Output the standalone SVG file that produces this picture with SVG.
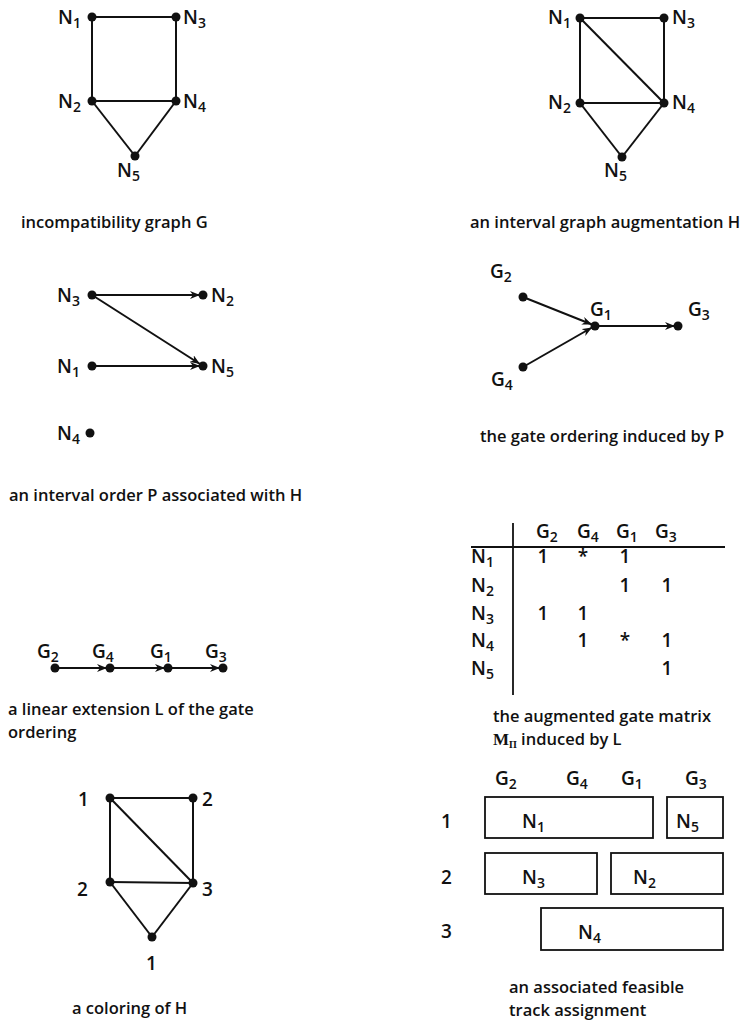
<svg xmlns="http://www.w3.org/2000/svg" width="753" height="1025" viewBox="0 0 753 1025">
<style>
text{font-family:"Open Sans","Liberation Sans",sans-serif;fill:#111;font-weight:600}
.lb{font-size:19px}
.sb{font-size:14px}
.cap{font-size:16.5px}
.e{stroke:#111;stroke-width:2;fill:none}
.d{fill:#111}
.box{fill:none;stroke:#111;stroke-width:1.8}
</style>
<defs>
<marker id="ah" viewBox="0 0 10 8" refX="10" refY="4" markerWidth="10" markerHeight="8" markerUnits="userSpaceOnUse" orient="auto">
<path d="M0,0 L10,4 L0,8 L3,4 z" fill="#111"/>
</marker>
</defs>
<rect width="753" height="1025" fill="#fff"/>

<!-- Graph G -->
<g id="graphG-edges">
<line class="e" x1="92" y1="17" x2="176" y2="17"/>
<line class="e" x1="92" y1="17" x2="92" y2="101"/>
<line class="e" x1="176" y1="17" x2="176" y2="101"/>
<line class="e" x1="92" y1="101" x2="176" y2="101"/>
<line class="e" x1="92" y1="101" x2="135" y2="156"/>
<line class="e" x1="176" y1="101" x2="135" y2="156"/>
</g>
<g id="G-N1"><circle class="d" cx="92" cy="17" r="4.5"/><text class="lb" x="58" y="24">N<tspan class="sb" dy="4">1</tspan></text></g>
<g id="G-N3"><circle class="d" cx="176" cy="17" r="4.5"/><text class="lb" x="183" y="24">N<tspan class="sb" dy="4">3</tspan></text></g>
<g id="G-N2"><circle class="d" cx="92" cy="101" r="4.5"/><text class="lb" x="58" y="108">N<tspan class="sb" dy="4">2</tspan></text></g>
<g id="G-N4"><circle class="d" cx="176" cy="101" r="4.5"/><text class="lb" x="183" y="108">N<tspan class="sb" dy="4">4</tspan></text></g>
<g id="G-N5"><circle class="d" cx="135" cy="156" r="4.5"/><text class="lb" x="117" y="177">N<tspan class="sb" dy="4">5</tspan></text></g>
<text class="cap" x="21" y="228">incompatibility graph G</text>

<!-- Graph H -->
<g id="graphH-edges">
<line class="e" x1="580" y1="18" x2="664" y2="18"/>
<line class="e" x1="580" y1="18" x2="580" y2="103"/>
<line class="e" x1="664" y1="18" x2="664" y2="103"/>
<line class="e" x1="580" y1="103" x2="664" y2="103"/>
<line class="e" x1="580" y1="18" x2="664" y2="103"/>
<line class="e" x1="580" y1="103" x2="622" y2="157"/>
<line class="e" x1="664" y1="103" x2="622" y2="157"/>
</g>
<g id="H-N1"><circle class="d" cx="580" cy="18" r="4.5"/><text class="lb" x="548" y="24">N<tspan class="sb" dy="4">1</tspan></text></g>
<g id="H-N3"><circle class="d" cx="664" cy="18" r="4.5"/><text class="lb" x="672" y="24">N<tspan class="sb" dy="4">3</tspan></text></g>
<g id="H-N2"><circle class="d" cx="580" cy="103" r="4.5"/><text class="lb" x="548" y="109">N<tspan class="sb" dy="4">2</tspan></text></g>
<g id="H-N4"><circle class="d" cx="664" cy="103" r="4.5"/><text class="lb" x="672" y="109">N<tspan class="sb" dy="4">4</tspan></text></g>
<g id="H-N5"><circle class="d" cx="622" cy="157" r="4.5"/><text class="lb" x="604" y="177">N<tspan class="sb" dy="4">5</tspan></text></g>
<text class="cap" x="470" y="228">an interval graph augmentation H</text>

<!-- Interval order P -->
<g id="P-edges">
<line class="e" x1="92" y1="295" x2="200" y2="295" marker-end="url(#ah)"/>
<line class="e" x1="92" y1="295" x2="200" y2="364" marker-end="url(#ah)"/>
<line class="e" x1="92" y1="366" x2="200" y2="366" marker-end="url(#ah)"/>
</g>
<g id="P-N3"><circle class="d" cx="92" cy="295" r="4.5"/><text class="lb" x="57" y="302">N<tspan class="sb" dy="4">3</tspan></text></g>
<g id="P-N2"><circle class="d" cx="203" cy="295" r="4.5"/><text class="lb" x="211" y="302">N<tspan class="sb" dy="4">2</tspan></text></g>
<g id="P-N1"><circle class="d" cx="92" cy="366" r="4.5"/><text class="lb" x="57" y="373">N<tspan class="sb" dy="4">1</tspan></text></g>
<g id="P-N5"><circle class="d" cx="203" cy="366" r="4.5"/><text class="lb" x="211" y="373">N<tspan class="sb" dy="4">5</tspan></text></g>
<g id="P-N4"><circle class="d" cx="90" cy="433" r="4.5"/><text class="lb" x="57" y="440">N<tspan class="sb" dy="4">4</tspan></text></g>
<text class="cap" x="9" y="501">an interval order  P associated with H</text>

<!-- Gate ordering -->
<g id="gate-edges">
<line class="e" x1="523" y1="297" x2="592" y2="324.5" marker-end="url(#ah)"/>
<line class="e" x1="523" y1="367" x2="592" y2="327.5" marker-end="url(#ah)"/>
<line class="e" x1="595" y1="326" x2="675" y2="326" marker-end="url(#ah)"/>
</g>
<g id="gate-G2"><circle class="d" cx="523" cy="297" r="4.5"/><text class="lb" x="490" y="278">G<tspan class="sb" dy="4">2</tspan></text></g>
<g id="gate-G1"><circle class="d" cx="595" cy="326" r="4.5"/><text class="lb" x="590" y="316">G<tspan class="sb" dy="4">1</tspan></text></g>
<g id="gate-G3"><circle class="d" cx="678" cy="326" r="4.5"/><text class="lb" x="688" y="316">G<tspan class="sb" dy="4">3</tspan></text></g>
<g id="gate-G4"><circle class="d" cx="523" cy="367" r="4.5"/><text class="lb" x="491" y="386">G<tspan class="sb" dy="4">4</tspan></text></g>
<text class="cap" x="480" y="442">the gate ordering induced by P</text>

<!-- Matrix -->
<g id="matrix">
<line x1="513" y1="523" x2="513" y2="695" stroke="#111" stroke-width="1.8"/>
<line x1="471" y1="547" x2="725" y2="547" stroke="#111" stroke-width="1.8"/>
<text class="lb" x="536" y="538">G<tspan class="sb" dy="4">2</tspan></text>
<text class="lb" x="577" y="538">G<tspan class="sb" dy="4">4</tspan></text>
<text class="lb" x="616" y="538">G<tspan class="sb" dy="4">1</tspan></text>
<text class="lb" x="655" y="538">G<tspan class="sb" dy="4">3</tspan></text>
<text class="lb" x="471" y="563">N<tspan class="sb" dy="4">1</tspan></text>
<text class="lb" x="471" y="592">N<tspan class="sb" dy="4">2</tspan></text>
<text class="lb" x="471" y="620">N<tspan class="sb" dy="4">3</tspan></text>
<text class="lb" x="471" y="647">N<tspan class="sb" dy="4">4</tspan></text>
<text class="lb" x="471" y="675">N<tspan class="sb" dy="4">5</tspan></text>
<g class="lb" text-anchor="middle">
<text x="543" y="563">1</text><text x="583" y="563">*</text><text x="625" y="563">1</text>
<text x="625" y="592">1</text><text x="667" y="592">1</text>
<text x="543" y="620">1</text><text x="583" y="620">1</text>
<text x="583" y="647">1</text><text x="625" y="647">*</text><text x="667" y="647">1</text>
<text x="667" y="675">1</text>
</g>
</g>
<text class="cap" x="493" y="722">the augmented gate matrix</text>
<text class="cap" x="493" y="745"><tspan font-family="Liberation Serif,serif" font-weight="bold" font-size="17">M</tspan><tspan font-family="Liberation Serif,serif" font-weight="bold" font-size="10" dy="3">Π</tspan><tspan dy="-3">  induced by L</tspan></text>

<!-- Linear extension -->
<g id="lin-edges">
<line class="e" x1="55" y1="668" x2="107" y2="668" marker-end="url(#ah)"/>
<line class="e" x1="110" y1="668" x2="165" y2="668" marker-end="url(#ah)"/>
<line class="e" x1="168" y1="668" x2="220" y2="668" marker-end="url(#ah)"/>
</g>
<g id="lin-G2"><circle class="d" cx="55" cy="668" r="4.5"/><text class="lb" x="37" y="658">G<tspan class="sb" dy="4">2</tspan></text></g>
<g id="lin-G4"><circle class="d" cx="110" cy="668" r="4.5"/><text class="lb" x="92" y="658">G<tspan class="sb" dy="4">4</tspan></text></g>
<g id="lin-G1"><circle class="d" cx="168" cy="668" r="4.5"/><text class="lb" x="150" y="658">G<tspan class="sb" dy="4">1</tspan></text></g>
<g id="lin-G3"><circle class="d" cx="223" cy="668" r="4.5"/><text class="lb" x="205" y="658">G<tspan class="sb" dy="4">3</tspan></text></g>
<text class="cap" x="8" y="715">a linear extension L of the gate</text>
<text class="cap" x="8" y="738">ordering</text>

<!-- Coloring -->
<g id="col-edges">
<line class="e" x1="110" y1="798" x2="193" y2="798"/>
<line class="e" x1="110" y1="798" x2="110" y2="882"/>
<line class="e" x1="193" y1="798" x2="193" y2="883"/>
<line class="e" x1="110" y1="882" x2="193" y2="883"/>
<line class="e" x1="110" y1="798" x2="193" y2="883"/>
<line class="e" x1="110" y1="882" x2="152" y2="937"/>
<line class="e" x1="193" y1="883" x2="152" y2="937"/>
</g>
<g id="col-a"><circle class="d" cx="110" cy="798" r="4.5"/><text class="lb" x="78" y="806">1</text></g>
<g id="col-b"><circle class="d" cx="193" cy="798" r="4.5"/><text class="lb" x="202" y="806">2</text></g>
<g id="col-c"><circle class="d" cx="110" cy="882" r="4.5"/><text class="lb" x="77" y="896">2</text></g>
<g id="col-d"><circle class="d" cx="193" cy="883" r="4.5"/><text class="lb" x="202" y="896">3</text></g>
<g id="col-e"><circle class="d" cx="152" cy="937" r="4.5"/><text class="lb" x="146" y="970">1</text></g>
<text class="cap" x="72" y="1014">a coloring of H</text>

<!-- Track assignment -->
<g id="tracks">
<text class="lb" x="495" y="785">G<tspan class="sb" dy="4">2</tspan></text>
<text class="lb" x="566" y="785">G<tspan class="sb" dy="4">4</tspan></text>
<text class="lb" x="621" y="785">G<tspan class="sb" dy="4">1</tspan></text>
<text class="lb" x="685" y="785">G<tspan class="sb" dy="4">3</tspan></text>
<text class="lb" x="441" y="828">1</text>
<text class="lb" x="441" y="884">2</text>
<text class="lb" x="441" y="938">3</text>
<g id="box-N1"><rect class="box" x="485" y="797" width="168" height="41"/><text class="lb" x="522" y="828">N<tspan class="sb" dy="4">1</tspan></text></g>
<g id="box-N5"><rect class="box" x="667" y="797" width="56" height="41"/><text class="lb" x="676" y="828">N<tspan class="sb" dy="4">5</tspan></text></g>
<g id="box-N3"><rect class="box" x="485" y="853" width="112" height="41"/><text class="lb" x="522" y="884">N<tspan class="sb" dy="4">3</tspan></text></g>
<g id="box-N2"><rect class="box" x="611" y="853" width="112" height="41"/><text class="lb" x="633" y="884">N<tspan class="sb" dy="4">2</tspan></text></g>
<g id="box-N4"><rect class="box" x="541" y="908" width="182" height="42"/><text class="lb" x="578" y="939">N<tspan class="sb" dy="4">4</tspan></text></g>
</g>
<text class="cap" x="509" y="993">an associated feasible</text>
<text class="cap" x="509" y="1016">track assignment</text>
</svg>
